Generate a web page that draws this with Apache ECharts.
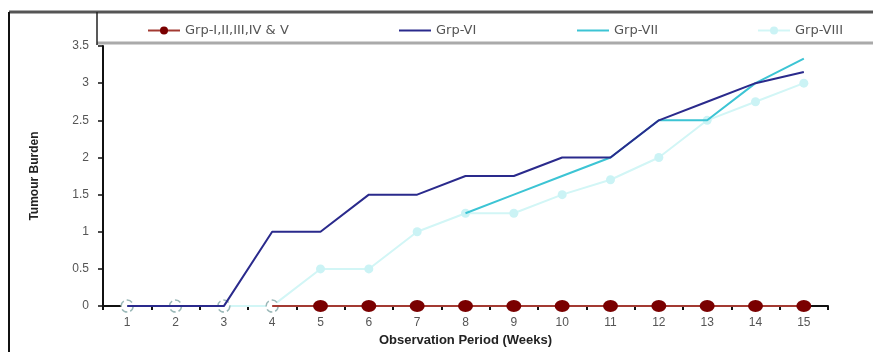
<!DOCTYPE html>
<html><head><meta charset="utf-8">
<script src="https://cdn.jsdelivr.net/npm/echarts@6/dist/echarts.min.js"></script>
<style>html,body{margin:0;padding:0;background:#fff}#c{width:873px;height:352px}</style>
</head><body><div id="c"></div>
<script>
var weeks = ['1','2','3','4','5','6','7','8','9','10','11','12','13','14','15'];
var seriesNames = ['Grp-I,II,III,IV & V','Grp-VI','Grp-VII','Grp-VIII'];
var grpI_V  = [null,null,null,0,0,0,0,0,0,0,0,0,0,0,0];
var grpVI   = [0,0,0,1.0,1.0,1.5,1.5,1.75,1.75,2.0,2.0,2.5,2.75,3.0,3.15];
var grpVII  = [null,null,null,null,null,null,null,1.25,1.5,1.75,2.0,2.5,2.5,3.0,3.33];
var grpVIII = [0,0,0,0,0.5,0.5,1.0,1.25,1.25,1.5,1.7,2.0,2.5,2.75,3.0];
var yTicks = [0,0.5,1,1.5,2,2.5,3,3.5];

var chart = echarts.init(document.getElementById('c'));
var viiiData = grpVIII.map(function(v,i){
  if (i < 4) return {value:v, symbolSize:12, itemStyle:{color:'#ffffff',borderColor:'#9ab8b8',borderType:'dashed',borderWidth:1.5}};
  return v;
});
var redData = grpI_V.map(function(v,i){
  if (i === 3) return {value:v, symbolSize:0};
  return v;
});
var legendLeft = [142,393,571,752];
var legendHideSymbol = [false,true,true,false];
var legendText = {fontSize:13,color:'#555',fontFamily:'DejaVu Sans, sans-serif'};
chart.setOption({
  animation:false,
  textStyle:{fontFamily:'Liberation Sans, Arial, sans-serif'},
  legend:seriesNames.map(function(n,i){
    var item = {name:n};
    if (legendHideSymbol[i]) item.itemStyle = {opacity:0};
    return {left:legendLeft[i], top:19, itemWidth:32, itemHeight:10, textStyle:legendText, data:[item]};
  }),
  graphic:[
    {type:'line',shape:{x1:9,y1:12,x2:873,y2:12},style:{stroke:'#555',lineWidth:3}},
    {type:'line',shape:{x1:97,y1:43,x2:873,y2:43},style:{stroke:'#aaa',lineWidth:3}},
    {type:'line',shape:{x1:97,y1:12,x2:97,y2:45},style:{stroke:'#222',lineWidth:1.5}},
    {type:'line',shape:{x1:9,y1:12,x2:9,y2:352},style:{stroke:'#111',lineWidth:2}}
  ],
  grid:{left:103,right:45,top:46,bottom:44},
  xAxis:{
    type:'category', data:weeks, boundaryGap:true,
    name:'Observation Period (Weeks)', nameLocation:'middle', nameGap:26,
    nameTextStyle:{fontSize:13,fontWeight:'bold',color:'#222'},
    axisLine:{lineStyle:{color:'#111',width:2}},
    axisTick:{show:true,length:4,inside:false,lineStyle:{color:'#111',width:2}},
    axisLabel:{fontSize:12,color:'#555',margin:11}
  },
  yAxis:{
    type:'value', min:0, max:3.5, interval:0.5,
    name:'Tumour Burden', nameLocation:'middle', nameGap:62, nameRotate:90,
    nameTextStyle:{fontSize:12,fontWeight:'bold',color:'#222',fontFamily:'Liberation Sans Narrow, Arial Narrow, sans-serif'},
    axisLine:{show:true,lineStyle:{color:'#111',width:2}},
    axisTick:{show:true,length:5,lineStyle:{color:'#111',width:1.5}},
    splitLine:{show:false},
    axisLabel:{fontSize:12,color:'#555',margin:14,formatter:function(v){return yTicks.indexOf(v)>=0?String(v):'';}}
  },
  series:[
    {name:seriesNames[3],type:'line',data:viiiData,symbol:'circle',symbolSize:9,
     lineStyle:{color:'#d2f6f6',width:2},itemStyle:{color:'#cbf3f5'},z:2},
    {name:seriesNames[2],type:'line',data:grpVII,symbol:'none',
     lineStyle:{color:'#3cc4d4',width:2},itemStyle:{color:'#3cc4d4'},z:3},
    {name:seriesNames[1],type:'line',data:grpVI,symbol:'none',
     lineStyle:{color:'#2a2a8c',width:2},itemStyle:{color:'#2a2a8c'},z:4},
    {name:seriesNames[0],type:'line',data:redData,symbol:'circle',symbolSize:[15,12],
     showSymbol:true,
     lineStyle:{color:'#a33a32',width:2},itemStyle:{color:'#7a0000'},z:5}
  ]
});
</script></body></html>
